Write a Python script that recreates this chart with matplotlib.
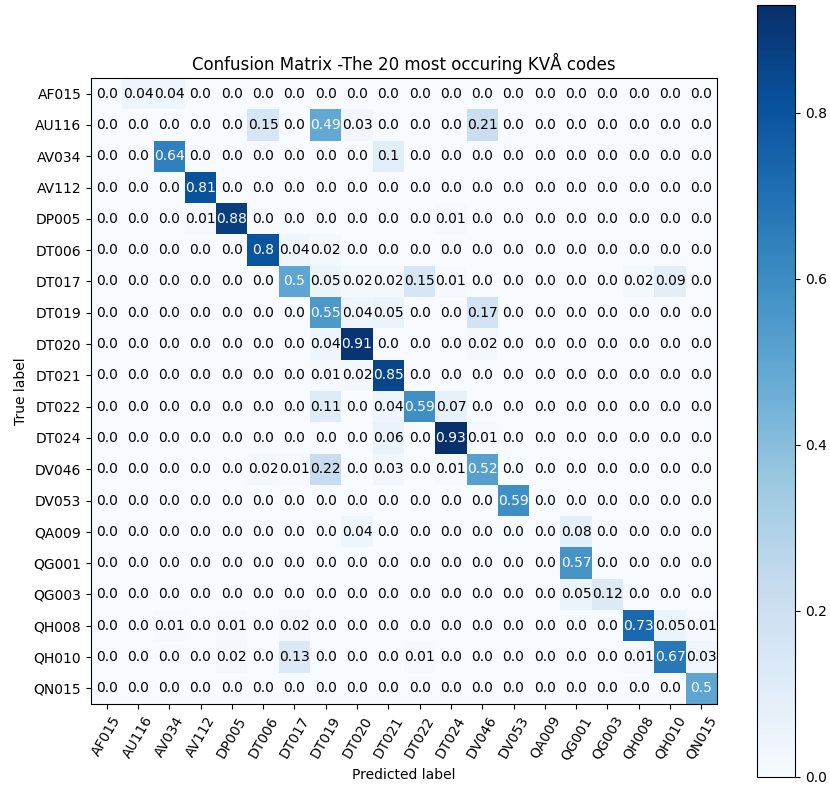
import numpy as np
import matplotlib
matplotlib.use('Agg')
import matplotlib.pyplot as plt

classes = ['AF015', 'AU116', 'AV034', 'AV112', 'DP005', 'DT006', 'DT017',
           'DT019', 'DT020', 'DT021', 'DT022', 'DT024', 'DV046', 'DV053',
           'QA009', 'QG001', 'QG003', 'QH008', 'QH010', 'QN015']

# normalized confusion matrix (rows = true, cols = predicted)
row_af015 = [0, .04, .04, 0, 0, 0, 0, 0, 0, 0, 0, 0, 0, 0, 0, 0, 0, 0, 0, 0]
row_au116 = [0, 0, 0, 0, 0, .15, 0, .49, .03, 0, 0, 0, .21, 0, 0, 0, 0, 0, 0, 0]
row_av034 = [0, 0, .64, 0, 0, 0, 0, 0, 0, .1, 0, 0, 0, 0, 0, 0, 0, 0, 0, 0]
row_av112 = [0, 0, 0, .81, 0, 0, 0, 0, 0, 0, 0, 0, 0, 0, 0, 0, 0, 0, 0, 0]
row_dp005 = [0, 0, 0, .01, .88, 0, 0, 0, 0, 0, 0, .01, 0, 0, 0, 0, 0, 0, 0, 0]
row_dt006 = [0, 0, 0, 0, 0, .8, .04, .02, 0, 0, 0, 0, 0, 0, 0, 0, 0, 0, 0, 0]
row_dt017 = [0, 0, 0, 0, 0, 0, .5, .05, .02, .02, .15, .01, 0, 0, 0, 0, 0, .02, .09, 0]
row_dt019 = [0, 0, 0, 0, 0, 0, 0, .55, .04, .05, 0, 0, .17, 0, 0, 0, 0, 0, 0, 0]
row_dt020 = [0, 0, 0, 0, 0, 0, 0, .04, .91, 0, 0, 0, .02, 0, 0, 0, 0, 0, 0, 0]
row_dt021 = [0, 0, 0, 0, 0, 0, 0, .01, .02, .85, 0, 0, 0, 0, 0, 0, 0, 0, 0, 0]
row_dt022 = [0, 0, 0, 0, 0, 0, 0, .11, 0, .04, .59, .07, 0, 0, 0, 0, 0, 0, 0, 0]
row_dt024 = [0, 0, 0, 0, 0, 0, 0, 0, 0, .06, 0, .93, .01, 0, 0, 0, 0, 0, 0, 0]
row_dv046 = [0, 0, 0, 0, 0, .02, .01, .22, 0, .03, 0, .01, .52, 0, 0, 0, 0, 0, 0, 0]
row_dv053 = [0, 0, 0, 0, 0, 0, 0, 0, 0, 0, 0, 0, 0, .59, 0, 0, 0, 0, 0, 0]
row_qa009 = [0, 0, 0, 0, 0, 0, 0, 0, .04, 0, 0, 0, 0, 0, 0, .08, 0, 0, 0, 0]
row_qg001 = [0, 0, 0, 0, 0, 0, 0, 0, 0, 0, 0, 0, 0, 0, 0, .57, 0, 0, 0, 0]
row_qg003 = [0, 0, 0, 0, 0, 0, 0, 0, 0, 0, 0, 0, 0, 0, 0, .05, .12, 0, 0, 0]
row_qh008 = [0, 0, .01, 0, .01, 0, .02, 0, 0, 0, 0, 0, 0, 0, 0, 0, 0, .73, .05, .01]
row_qh010 = [0, 0, 0, 0, .02, 0, .13, 0, 0, 0, .01, 0, 0, 0, 0, 0, 0, .01, .67, .03]
row_qn015 = [0, 0, 0, 0, 0, 0, 0, 0, 0, 0, 0, 0, 0, 0, 0, 0, 0, 0, 0, .5]

cm = np.array([row_af015, row_au116, row_av034, row_av112, row_dp005,
               row_dt006, row_dt017, row_dt019, row_dt020, row_dt021,
               row_dt022, row_dt024, row_dv046, row_dv053, row_qa009,
               row_qg001, row_qg003, row_qh008, row_qh010, row_qn015], dtype=float)

fig = plt.figure(figsize=(8.3, 7.89), dpi=100)
ax = fig.add_axes([91 / 830, 1 - 704 / 789, 626 / 830, 626 / 789])
cax = fig.add_axes([757 / 830, 1 - 777 / 789, 38 / 830, 772 / 789])

im = ax.imshow(cm, interpolation='nearest', cmap=plt.cm.Blues)
ax.set_title('Confusion Matrix -The 20 most occuring KVÅ codes')
fig.colorbar(im, cax=cax)

ticks = np.arange(len(classes))
ax.set_xticks(ticks)
ax.set_xticklabels(classes, rotation=60)
ax.set_yticks(ticks)
ax.set_yticklabels(classes)

thresh = cm.max() / 2.
for i in range(cm.shape[0]):
    for j in range(cm.shape[1]):
        ax.text(j, i, str(round(cm[i, j], 2)),
                ha='center', va='center',
                color='white' if cm[i, j] > thresh else 'black')

ax.set_ylabel('True label')
ax.set_xlabel('Predicted label')

fig.savefig('out.png', dpi=100)
plt.close(fig)
